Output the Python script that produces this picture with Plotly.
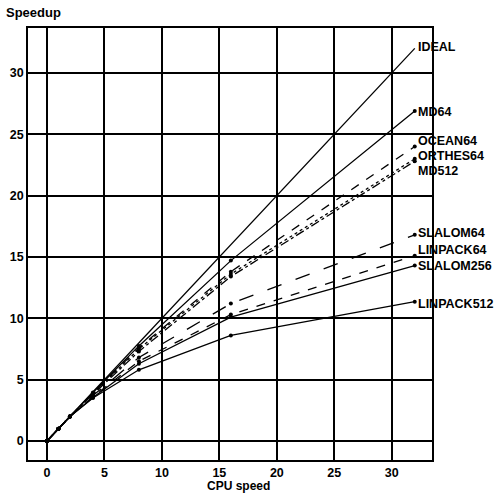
import plotly.graph_objects as go

cpu = [0, 1, 2, 4, 8, 16, 32]
series_names = ["IDEAL", "MD64", "OCEAN64", "ORTHES64", "MD512",
                "SLALOM64", "LINPACK64", "SLALOM256", "LINPACK512"]
ideal = [0, 1, 2, 4, 8, 16, 32]
md64 = [0, 1, 2, 3.95, 7.75, 14.7, 26.9]
ocean64 = [0, 1, 2, 3.9, 7.6, 13.8, 24.0]
orthes64 = [0, 1, 2, 3.85, 7.5, 13.6, 23.0]
md512 = [0, 1, 2, 3.8, 7.3, 13.4, 22.8]
slalom64 = [0, 1, 2, 3.7, 6.8, 11.2, 16.8]
linpack64 = [0, 1, 2, 3.6, 6.5, 10.3, 15.1]
slalom256 = [0, 1, 2, 3.55, 6.3, 10.1, 14.3]
linpack512 = [0, 1, 2, 3.5, 5.8, 8.6, 11.35]
xticks = [0, 5, 10, 15, 20, 25, 30]
yticks = [0, 5, 10, 15, 20, 25, 30]

values = [ideal, md64, ocean64, orthes64, md512,
          slalom64, linpack64, slalom256, linpack512]
dashes = ["solid", "solid", "dash", "dot", "dashdot",
          "longdash", "dash", "solid", "solid"]
# label vertical positions (data units) to avoid overlap
label_y = [32.1, 26.8, 24.45, 23.25, 22.0, 16.95, 15.55, 14.25, 11.15]

fig = go.Figure()
for name, vals, dash in zip(series_names, values, dashes):
    fig.add_trace(go.Scatter(
        x=cpu, y=vals, name=name,
        mode="lines" if name == "IDEAL" else "lines+markers",
        line=dict(color="black", width=1.3, dash=dash),
        marker=dict(color="black", size=4),
        showlegend=False,
    ))

font = dict(family="Liberation Sans, Arial, sans-serif", size=13,
            color="black", weight="bold")
label_font = dict(font, size=12.5)

for name, ly in zip(series_names, label_y):
    fig.add_annotation(x=32.15, y=ly, xref="x", yref="y", text=name,
                       showarrow=False, xanchor="left", yanchor="middle",
                       font=label_font)

fig.add_annotation(x=-0.06, y=1.035, xref="paper", yref="paper",
                   text="Speedup", showarrow=False, xanchor="left",
                   yanchor="middle", font=font)
fig.add_annotation(x=0.52, y=-0.060, xref="paper", yref="paper",
                   text="CPU speed", showarrow=False, xanchor="center",
                   yanchor="middle", font=dict(font, size=12))

axis_common = dict(showgrid=True, gridcolor="black", gridwidth=1.6,
                   zeroline=False, showline=True, linecolor="black",
                   linewidth=1.8, mirror=True, ticks="",
                   tickfont=label_font, automargin=False)

fig.update_xaxes(range=[-1.65, 33.5], tickvals=xticks, **axis_common)
fig.update_yaxes(range=[-1.55, 33.66], tickvals=yticks, **axis_common)

fig.update_layout(
    width=499, height=493,
    margin=dict(l=28, r=67, t=28, b=33, autoexpand=False),
    plot_bgcolor="white", paper_bgcolor="white",
    font=font,
)

fig.write_html("out.html", config={"displayModeBar": False},
               post_script="document.body.style.margin='0px';"
                           "document.body.style.overflow='hidden';")
